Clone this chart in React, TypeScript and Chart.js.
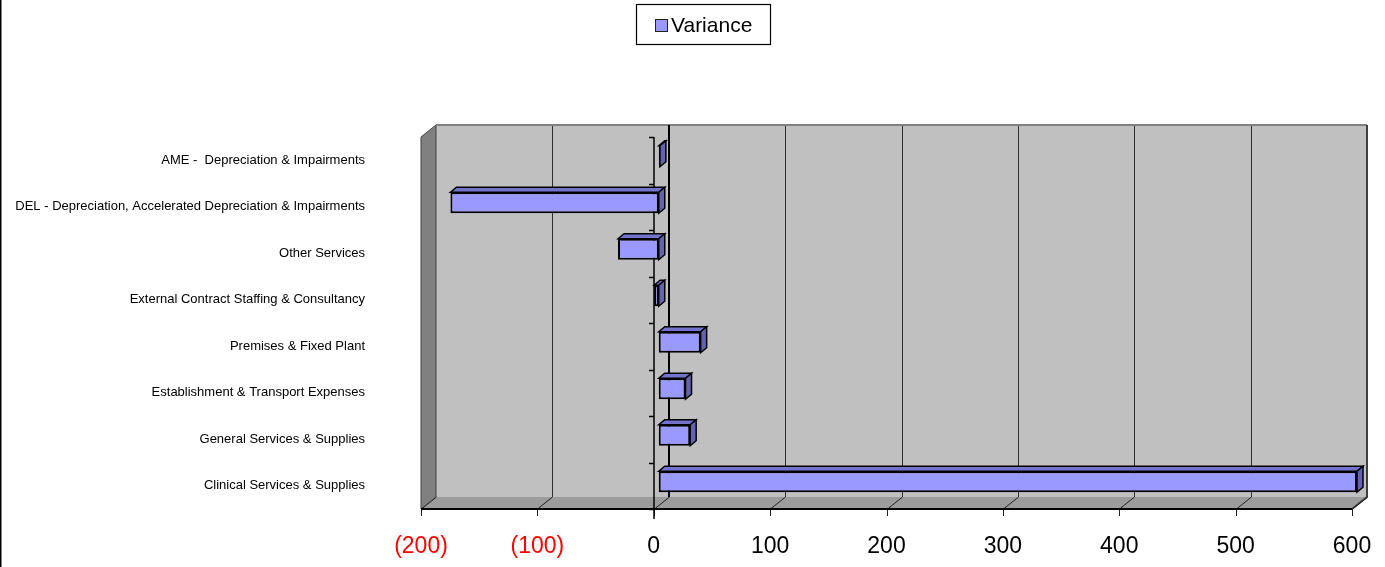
import React, { useEffect, useRef } from "react";
import { Chart, registerables } from "chart.js";
Chart.register(...registerables);

const categories = [
  "AME -  Depreciation & Impairments",
  "DEL - Depreciation, Accelerated Depreciation & Impairments",
  "Other Services",
  "External Contract Staffing & Consultancy",
  "Premises & Fixed Plant",
  "Establishment & Transport Expenses",
  "General Services & Supplies",
  "Clinical Services & Supplies",
];
const variance = [1, -179, -35, -4, 36, 23, 27, 600];
const xTicks = [-200, -100, 0, 100, 200, 300, 400, 500, 600];
const seriesName = "Variance";

const FONT = "'Liberation Sans', Arial, sans-serif";
const DX = 15;
const DY = 12;
const BDX = 6;
const BDY = 5;
const SHIFT_X = 5;
const SHIFT_Y = -4;

const threeD = {
  id: "threeD",
  beforeDatasetsDraw(chart: any) {
    const { ctx, chartArea: a, scales } = chart;
    const x = scales.x;
    ctx.save();
    // back wall
    ctx.fillStyle = "#C0C0C0";
    ctx.fillRect(a.left + DX, a.top - DY, a.right - a.left, a.bottom - a.top);
    // left wall
    ctx.beginPath();
    ctx.moveTo(a.left, a.top);
    ctx.lineTo(a.left + DX, a.top - DY);
    ctx.lineTo(a.left + DX, a.bottom - DY);
    ctx.lineTo(a.left, a.bottom);
    ctx.closePath();
    ctx.fillStyle = "#808080";
    ctx.fill();
    ctx.strokeStyle = "#404040";
    ctx.lineWidth = 1;
    ctx.stroke();
    // floor
    ctx.beginPath();
    ctx.moveTo(a.left, a.bottom);
    ctx.lineTo(a.left + DX, a.bottom - DY);
    ctx.lineTo(a.right + DX, a.bottom - DY);
    ctx.lineTo(a.right, a.bottom);
    ctx.closePath();
    ctx.fillStyle = "#9C9C9C";
    ctx.fill();
    // back wall gridlines
    ctx.strokeStyle = "#303030";
    ctx.lineWidth = 1;
    xTicks.forEach((v) => {
      const px = Math.round(x.getPixelForValue(v)) + DX + 0.5;
      if (v === xTicks[0] || v === xTicks[xTicks.length - 1]) return;
      ctx.beginPath();
      ctx.moveTo(px, a.top - DY);
      ctx.lineTo(px, a.bottom - DY);
      ctx.stroke();
    });
    // back wall top edge & right edge
    ctx.strokeStyle = "#808080";
    ctx.lineWidth = 2;
    ctx.beginPath();
    ctx.moveTo(a.left + DX, a.top - DY);
    ctx.lineTo(a.right + DX, a.top - DY);
    ctx.stroke();
    ctx.strokeStyle = "#404040";
    ctx.beginPath();
    ctx.moveTo(a.right + DX, a.top - DY);
    ctx.lineTo(a.right + DX, a.bottom - DY);
    ctx.lineTo(a.right, a.bottom);
    ctx.stroke();
    // zero line on back wall
    const x0 = Math.round(x.getPixelForValue(0));
    ctx.strokeStyle = "#000";
    ctx.lineWidth = 2;
    ctx.beginPath();
    ctx.moveTo(x0 + DX, a.top - DY);
    ctx.lineTo(x0 + DX, a.bottom - DY);
    ctx.stroke();
    // floor diagonals and ticks
    ctx.strokeStyle = "#202020";
    ctx.lineWidth = 1;
    xTicks.forEach((v) => {
      const px = Math.round(x.getPixelForValue(v)) + 0.5;
      ctx.beginPath();
      ctx.moveTo(px, a.bottom);
      ctx.lineTo(px + DX, a.bottom - DY);
      ctx.stroke();
      ctx.beginPath();
      ctx.moveTo(px, a.bottom);
      ctx.lineTo(px, a.bottom + 7);
      ctx.stroke();
    });
    // floor front edge
    ctx.strokeStyle = "#000";
    ctx.lineWidth = 2;
    ctx.beginPath();
    ctx.moveTo(a.left, a.bottom);
    ctx.lineTo(a.right, a.bottom);
    ctx.stroke();
    // category axis at zero (front)
    ctx.lineWidth = 1.5;
    ctx.beginPath();
    ctx.moveTo(x0, a.top);
    ctx.lineTo(x0, a.bottom + 10);
    ctx.stroke();
    const n = categories.length;
    for (let i = 0; i <= n; i++) {
      const py = Math.round(a.top + (i * (a.bottom - a.top)) / n) + 0.5;
      ctx.beginPath();
      ctx.moveTo(x0 - 5, py);
      ctx.lineTo(x0, py);
      ctx.stroke();
    }
    ctx.restore();

    // shift datasets to the middle depth and draw 3D faces
    ctx.save();
    ctx.translate(SHIFT_X, SHIFT_Y);
    const meta = chart.getDatasetMeta(0);
    meta.data.forEach((el: any) => {
      const p = el.getProps(["x", "y", "base", "height"], true);
      const left = Math.min(p.x, p.base);
      const right = Math.max(p.x, p.base);
      const top = p.y - p.height / 2;
      const bottom = p.y + p.height / 2;
      ctx.lineWidth = 1.5;
      ctx.strokeStyle = "#000";
      // top face
      ctx.beginPath();
      ctx.moveTo(left, top);
      ctx.lineTo(left + BDX, top - BDY);
      ctx.lineTo(right + BDX, top - BDY);
      ctx.lineTo(right, top);
      ctx.closePath();
      ctx.fillStyle = "#7373CC";
      ctx.fill();
      ctx.stroke();
      // side face
      ctx.beginPath();
      ctx.moveTo(right, top);
      ctx.lineTo(right + BDX, top - BDY);
      ctx.lineTo(right + BDX, bottom - BDY);
      ctx.lineTo(right, bottom);
      ctx.closePath();
      ctx.fillStyle = "#6363B0";
      ctx.fill();
      ctx.stroke();
    });
  },
  afterDatasetsDraw(chart: any) {
    chart.ctx.restore();
  },
  afterDraw(chart: any) {
    const { ctx } = chart;
    ctx.save();
    // outer frame left edge
    ctx.fillStyle = "#000";
    ctx.fillRect(0, 0, 1.5, chart.height);
    // legend
    ctx.strokeStyle = "#000";
    ctx.lineWidth = 1.2;
    ctx.strokeRect(636.5, 4.5, 134, 40);
    ctx.fillStyle = "#9999FF";
    ctx.fillRect(655.5, 19.5, 12, 12);
    ctx.strokeStyle = "#222";
    ctx.lineWidth = 1;
    ctx.strokeRect(655.5, 19.5, 12, 12);
    ctx.fillStyle = "#000";
    ctx.font = `21px ${FONT}`;
    ctx.textBaseline = "middle";
    ctx.textAlign = "left";
    ctx.fillText(chart.data.datasets[0].label, 671, 26);
    ctx.restore();
  },
};

export default function App() {
  const ref = useRef<HTMLCanvasElement>(null);
  useEffect(() => {
    document.body.style.margin = "0";
    const chart = new Chart(ref.current as HTMLCanvasElement, {
      type: "bar",
      data: {
        labels: categories,
        datasets: [
          {
            label: seriesName,
            data: variance,
            backgroundColor: "#9999FF",
            borderColor: "#000",
            borderWidth: 2,
            borderSkipped: false,
            barPercentage: 0.45,
            categoryPercentage: 1,
            clip: false as any,
          },
        ],
      },
      options: {
        indexAxis: "y",
        responsive: false,
        animation: false,
        layout: { padding: { top: 137, right: 33, left: 0, bottom: 0 } },
        plugins: { legend: { display: false }, tooltip: { enabled: false } },
        scales: {
          x: {
            type: "linear",
            min: -200,
            max: 600,
            afterBuildTicks: (s: any) => {
              s.ticks = xTicks.map((v) => ({ value: v }));
            },
            afterFit: (s: any) => {
              s.height = 58;
              s.paddingLeft = 0;
              s.paddingRight = 0;
              s.paddingTop = 0;
              s.paddingBottom = 0;
            },
            grid: { display: false },
            border: { display: false },
            ticks: {
              padding: 16,
              font: { family: FONT, size: 23 },
              color: (c: any) => (c.tick.value < 0 ? "#FF0000" : "#000"),
              callback: (v: any) => (v < 0 ? `(${-v})` : `${v}`),
              maxRotation: 0,
              autoSkip: false,
            },
          },
          y: {
            type: "category",
            afterFit: (s: any) => {
              s.width = 421;
              s.paddingLeft = 0;
              s.paddingRight = 0;
              s.paddingTop = 0;
              s.paddingBottom = 0;
            },
            grid: { display: false, drawTicks: false },
            border: { display: false },
            ticks: {
              padding: 56,
              font: { family: FONT, size: 13 },
              color: "#000",
              autoSkip: false,
            },
          },
        },
      },
      plugins: [threeD],
    } as any);
    return () => chart.destroy();
  }, []);
  return (
    <div style={{ position: "absolute", left: 0, top: 0, width: 1385, height: 567, background: "#fff" }}>
      <canvas ref={ref} width={1385} height={567} />
    </div>
  );
}
